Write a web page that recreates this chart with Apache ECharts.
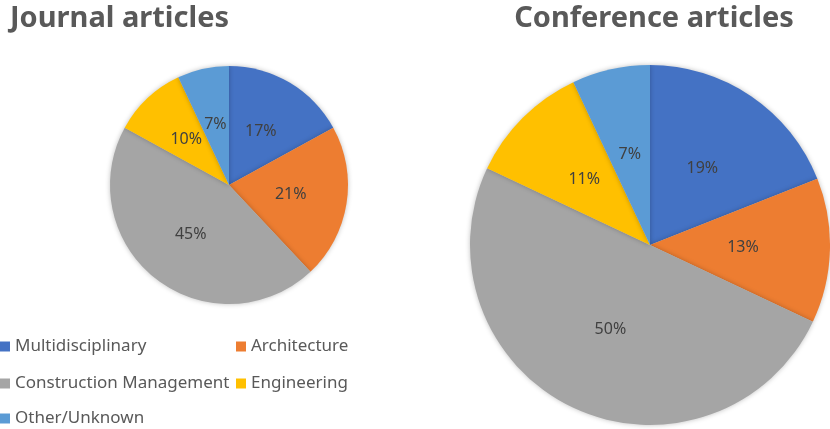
<!DOCTYPE html>
<html><head><meta charset="utf-8">
<script src="https://cdn.jsdelivr.net/npm/echarts@6/dist/echarts.min.js"></script>
<style>html,body{margin:0;padding:0;background:#fff}#c{width:830px;height:429px}</style>
</head><body><div id="c"></div>
<script>
const categories = ['Multidisciplinary', 'Architecture', 'Construction Management', 'Engineering', 'Other/Unknown'];
const journalValues = [17, 21, 45, 10, 7];
const conferenceValues = [19, 13, 50, 11, 7];
const titles = ['Journal articles', 'Conference articles'];
const colors = ['#4472C4', '#ED7D31', '#A5A5A5', '#FFC000', '#5B9BD5'];

const chart = echarts.init(document.getElementById('c'), null, {renderer: 'canvas'});
const font = '"Noto Sans", "Open Sans", sans-serif';
function mk(vals) { return categories.map((n, i) => ({name: n, value: vals[i]})); }
const legendPos = [
  {left: 0, top: 338}, {left: 236, top: 338},
  {left: 0, top: 375}, {left: 236, top: 375},
  {left: 0, top: 410}
];
const legends = categories.map((n, i) => ({
  data: [n], left: legendPos[i].left, top: legendPos[i].top, icon: 'rect',
  itemWidth: 10, itemHeight: 10, padding: 0,
  textStyle: {fontFamily: font, fontSize: 17, color: '#595959'}
}));
const seriesLabel = {
  show: true, position: 'inside', formatter: p => p.value + '%',
  color: '#404040', fontFamily: font, fontSize: 16
};
const itemStyle = {shadowBlur: 5, shadowColor: 'rgba(0,0,0,0.25)'};
chart.setOption({
  animation: false,
  color: colors,
  title: [
    {text: titles[0], left: 5, top: -1, textStyle: {fontFamily: font, fontWeight: 'bold', fontSize: 29, color: '#595959'}},
    {text: titles[1], left: 649, textAlign: 'center', top: -1, textStyle: {fontFamily: font, fontWeight: 'bold', fontSize: 29, color: '#595959'}}
  ],
  legend: legends,
  series: [
    {type: 'pie', center: [229, 185], radius: [0, 119], startAngle: 90, clockwise: true,
     data: mk(journalValues), label: seriesLabel, labelLine: {show: false}, itemStyle: itemStyle, emphasis: {disabled: true}},
    {type: 'pie', center: [650, 245], radius: [0, 180], startAngle: 90, clockwise: true,
     data: mk(conferenceValues), label: seriesLabel, labelLine: {show: false}, itemStyle: itemStyle, emphasis: {disabled: true}}
  ]
});
</script></body></html>
